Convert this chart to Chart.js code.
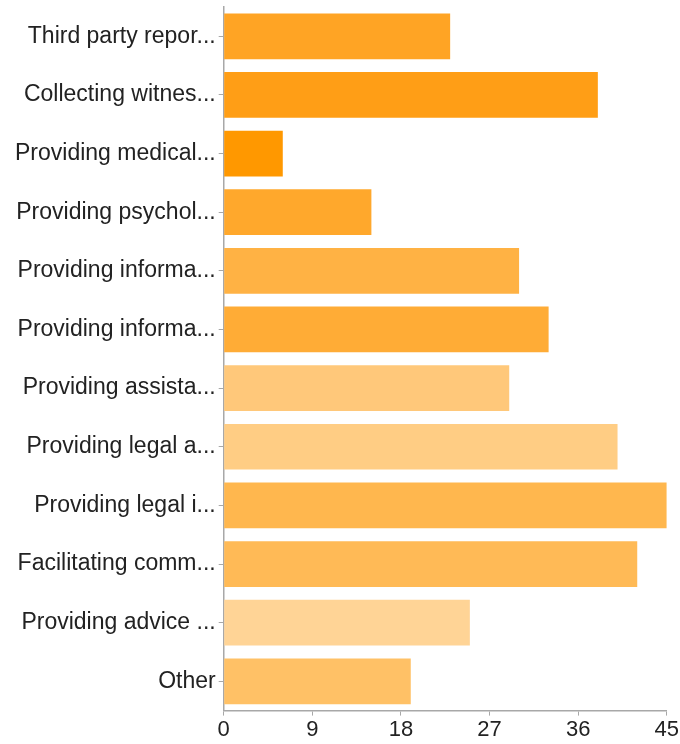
<!DOCTYPE html>
<html>
<head>
<meta charset="utf-8">
<script src="https://cdn.jsdelivr.net/npm/chart.js@4"></script>
<style>
  body { margin: 0; background: #fff; }
</style>
</head>
<body>
<canvas id="chart" width="680" height="744"></canvas>
<script>
const categories = [
  "Third party repor...",
  "Collecting witnes...",
  "Providing medical...",
  "Providing psychol...",
  "Providing informa...",
  "Providing informa...",
  "Providing assista...",
  "Providing legal a...",
  "Providing legal i...",
  "Facilitating comm...",
  "Providing advice ...",
  "Other"
];
const values = [23, 38, 6, 15, 30, 33, 29, 40, 45, 42, 25, 19];
const barColors = [
  "#ffa424", "#ff9e16", "#ff9800", "#ffa82c", "#ffb244", "#ffac36",
  "#ffc87a", "#ffcd84", "#ffb74e", "#ffba56", "#ffd496", "#ffc166"
];
const xTicks = [0, 9, 18, 27, 36, 45];

const ctx = document.getElementById("chart").getContext("2d");
new Chart(ctx, {
  type: "bar",
  data: {
    labels: categories,
    datasets: [{
      data: values,
      backgroundColor: barColors,
      borderWidth: 0,
      categoryPercentage: 1,
      barPercentage: 0.78
    }]
  },
  options: {
    indexAxis: "y",
    responsive: false,
    animation: false,
    layout: { padding: { top: 7, right: 13, bottom: 0, left: 12 } },
    plugins: { legend: { display: false }, tooltip: { enabled: false } },
    scales: {
      x: {
        min: 0,
        max: 45,
        afterBuildTicks: (axis) => { axis.ticks = xTicks.map((v) => ({ value: v })); },
        grid: { drawOnChartArea: false, drawTicks: true, tickLength: 5, color: "#a8a8a8" },
        border: { color: "#a8a8a8", width: 1.5 },
        ticks: { color: "#222", font: { family: "Liberation Sans", size: 22 }, padding: 1, maxRotation: 0 }
      },
      y: {
        grid: { drawOnChartArea: false, drawTicks: true, tickLength: 5, color: "#a8a8a8", offset: false },
        border: { color: "#a8a8a8", width: 1.5 },
        ticks: { color: "#222", font: { family: "Liberation Sans", size: 23 }, padding: 3 },
        afterFit: (axis) => { axis.paddingTop = 0; axis.paddingBottom = 0; }
      }
    }
  }
});
</script>
</body>
</html>
